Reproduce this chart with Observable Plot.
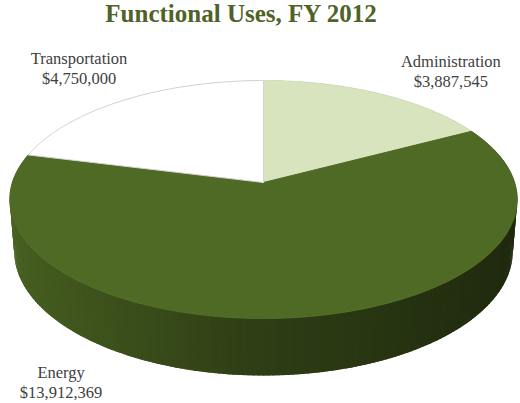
<!DOCTYPE html>
<html><head><meta charset="utf-8">
<script src="https://cdn.jsdelivr.net/npm/d3@7"></script>
<script src="https://cdn.jsdelivr.net/npm/@observablehq/plot@0.6"></script>
<style>
body{margin:0;background:#fff;width:520px;height:403px;overflow:hidden}
#title{width:482px;height:38px;line-height:38px;text-align:center;font:bold 25px "Liberation Serif",serif;color:#4f6228;white-space:nowrap}
#chart svg{display:block;font-family:"Liberation Serif",serif}
#chart svg text{font-family:"Liberation Serif",serif !important}
</style></head>
<body>
<div id="title">Functional Uses, FY 2012</div>
<div id="chart"></div>
<script>
// ---- data ----
const categories = ["Administration", "Energy", "Transportation"];
const values = [3887545, 13912369, 4750000];
const valueLabels = ["$3,887,545", "$13,912,369", "$4,750,000"];

// ---- styles / layout ----
const sliceColors = ["#d7e4bd", "#4f6a24", "#ffffff"];
const sliceOutline = ["#d7e4bd", "#4f6a24", "#d4d4d4"];
const labelShift = [6.8, 32.1, 1.2];   // degrees added to slice mid-angle
const labelRadius = [1.41, 1.52, 1.43];

const TOP = 38, W = 520, H = 403 - TOP;
const CX = 263, CY = 182, F = 1557, D = 6.2;   // page coordinates
const sinE = 0.464, cosE = Math.sqrt(1 - sinE * sinE);
const DEPTH = 0.235;

function proj(u, v, h) {
  const yp = h * cosE + v * sinE;
  const zp = -h * sinE + v * cosE;
  const k = F / (D + zp);
  return [CX + u * k, CY - yp * k];
}

const arcs = d3.pie().sort(null).startAngle(0).endAngle(2 * Math.PI)(values);

function shade(base, u) {
  const k = u < 0 ? 0.58 + (-u) * 0.34 : 0.58 - u * 0.2;
  const c = d3.rgb(base);
  return d3.rgb(c.r * k, c.g * k, c.b * k).formatHex();
}

// side quads (slightly overlapping to hide seams)
const quads = [];
arcs.forEach((a, i) => {
  const n = Math.max(2, Math.ceil((a.endAngle - a.startAngle) / (Math.PI / 180)));
  const step = (a.endAngle - a.startAngle) / n;
  for (let j = 0; j < n; j++) {
    const t0 = a.startAngle + step * j;
    const t1 = Math.min(a.endAngle, t0 + step * 1.8);
    const tm = t0 + step / 2;
    const pts = [
      proj(Math.sin(t0), Math.cos(t0), 0),
      proj(Math.sin(t1), Math.cos(t1), 0),
      proj(Math.sin(t1), Math.cos(t1), -DEPTH),
      proj(Math.sin(t0), Math.cos(t0), -DEPTH)
    ];
    quads.push({v: Math.cos(tm), fill: shade(sliceColors[i], Math.sin(tm)), pts});
  }
});
quads.sort((a, b) => b.v - a.v);
const sideData = [];
quads.forEach((q, qi) => q.pts.forEach(p => sideData.push({id: "s" + qi, x: p[0], y: p[1], fill: q.fill})));

// top faces
const topData = [];
arcs.forEach((a, i) => {
  const c = proj(0, 0, 0);
  topData.push({id: categories[i], x: c[0], y: c[1], fill: sliceColors[i], stroke: sliceOutline[i]});
  const n = Math.ceil((a.endAngle - a.startAngle) / (Math.PI / 360));
  for (let j = 0; j <= n; j++) {
    const t = a.startAngle + (a.endAngle - a.startAngle) * j / n;
    const p = proj(Math.sin(t), Math.cos(t), 0);
    topData.push({id: categories[i], x: p[0], y: p[1], fill: sliceColors[i], stroke: sliceOutline[i]});
  }
  topData.push({id: categories[i], x: c[0], y: c[1], fill: sliceColors[i], stroke: sliceOutline[i]});
});

// labels
const labelData = arcs.map((a, i) => {
  const t = (a.startAngle + a.endAngle) / 2 + labelShift[i] * Math.PI / 180;
  const r = labelRadius[i];
  const p = proj(r * Math.sin(t), r * Math.cos(t), 0);
  return {x: p[0], y: p[1], text: categories[i] + "\n" + valueLabels[i]};
});

const chart = Plot.plot({
  width: W, height: H,
  margin: 0,
  x: {domain: [0, W], range: [0, W], axis: null},
  y: {domain: [TOP, 403], range: [0, H], axis: null},
  color: {type: "identity"},
  style: {background: "#fff", fontFamily: "Liberation Serif"},
  marks: [
    Plot.line(sideData, {x: "x", y: "y", z: "id", fill: "fill", strokeWidth: 0, curve: "linear"}),
    Plot.line(topData, {x: "x", y: "y", z: "id", fill: "fill", stroke: "stroke", strokeWidth: 1, curve: "linear"}),
    Plot.text(labelData, {x: "x", y: "y", text: "text", fontFamily: "Liberation Serif", fontSize: 16.5, fill: "#404040", lineHeight: 1.2, textAnchor: "middle", lineAnchor: "middle"})
  ]
});
document.getElementById("chart").appendChild(chart);
</script>
</body></html>
